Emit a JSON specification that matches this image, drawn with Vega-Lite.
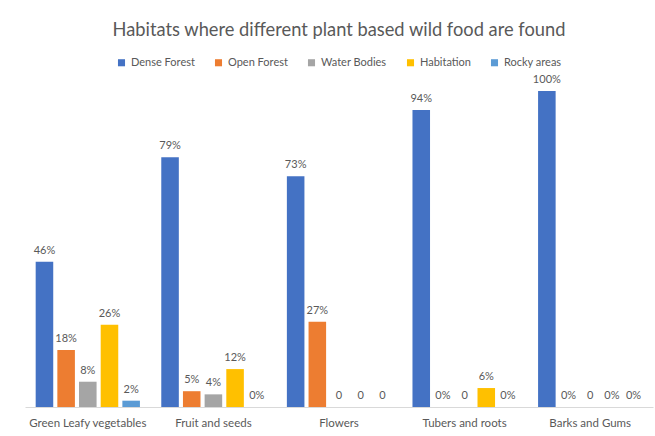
{
  "$schema": "https://vega.github.io/schema/vega-lite/v6.json",
  "autosize": "none",
  "width": 628,
  "height": 316,
  "padding": {"left": 25, "top": 91, "right": 2, "bottom": 29},
  "background": "white",
  "title": {
    "text": "Habitats where different plant based wild food are found",
    "font": "Lato",
    "fontSize": 18.3,
    "fontWeight": "normal",
    "color": "#595959",
    "anchor": "middle",
    "offset": 17
  },
  "data": {
    "values": [
      {"food": "Green Leafy vegetables", "habitat": "Dense Forest", "value": 46, "label": "46%"},
      {"food": "Green Leafy vegetables", "habitat": "Open Forest", "value": 18, "label": "18%"},
      {"food": "Green Leafy vegetables", "habitat": "Water Bodies", "value": 8, "label": "8%"},
      {"food": "Green Leafy vegetables", "habitat": "Habitation", "value": 26, "label": "26%"},
      {"food": "Green Leafy vegetables", "habitat": "Rocky areas", "value": 2, "label": "2%"},
      {"food": "Fruit and seeds", "habitat": "Dense Forest", "value": 79, "label": "79%"},
      {"food": "Fruit and seeds", "habitat": "Open Forest", "value": 5, "label": "5%"},
      {"food": "Fruit and seeds", "habitat": "Water Bodies", "value": 4, "label": "4%"},
      {"food": "Fruit and seeds", "habitat": "Habitation", "value": 12, "label": "12%"},
      {"food": "Fruit and seeds", "habitat": "Rocky areas", "value": 0, "label": "0%"},
      {"food": "Flowers", "habitat": "Dense Forest", "value": 73, "label": "73%"},
      {"food": "Flowers", "habitat": "Open Forest", "value": 27, "label": "27%"},
      {"food": "Flowers", "habitat": "Water Bodies", "value": 0, "label": "0"},
      {"food": "Flowers", "habitat": "Habitation", "value": 0, "label": "0"},
      {"food": "Flowers", "habitat": "Rocky areas", "value": 0, "label": "0"},
      {"food": "Tubers and roots", "habitat": "Dense Forest", "value": 94, "label": "94%"},
      {"food": "Tubers and roots", "habitat": "Open Forest", "value": 0, "label": "0%"},
      {"food": "Tubers and roots", "habitat": "Water Bodies", "value": 0, "label": "0"},
      {"food": "Tubers and roots", "habitat": "Habitation", "value": 6, "label": "6%"},
      {"food": "Tubers and roots", "habitat": "Rocky areas", "value": 0, "label": "0%"},
      {"food": "Barks and Gums", "habitat": "Dense Forest", "value": 100, "label": "100%"},
      {"food": "Barks and Gums", "habitat": "Open Forest", "value": 0, "label": "0%"},
      {"food": "Barks and Gums", "habitat": "Water Bodies", "value": 0, "label": "0"},
      {"food": "Barks and Gums", "habitat": "Habitation", "value": 0, "label": "0%"},
      {"food": "Barks and Gums", "habitat": "Rocky areas", "value": 0, "label": "0%"}
    ]
  },
  "encoding": {
    "x": {
      "field": "food",
      "type": "nominal",
      "sort": ["Green Leafy vegetables", "Fruit and seeds", "Flowers", "Tubers and roots", "Barks and Gums"],
      "scale": {"paddingInner": 0.17, "paddingOuter": 0.085},
      "axis": {
        "title": null,
        "labelAngle": 0,
        "ticks": false,
        "domainColor": "#D9D9D9",
        "labelColor": "#595959",
        "labelFont": "Lato",
        "labelFontSize": 11.5,
        "labelPadding": 10
      }
    },
    "xOffset": {
      "field": "habitat",
      "type": "nominal",
      "sort": ["Dense Forest", "Open Forest", "Water Bodies", "Habitation", "Rocky areas"],
      "scale": {"paddingInner": 0.19, "paddingOuter": 0}
    },
    "y": {
      "field": "value",
      "type": "quantitative",
      "scale": {"domain": [0, 100]},
      "axis": null
    }
  },
  "layer": [
    {
      "mark": {"type": "bar"},
      "encoding": {
        "color": {
          "field": "habitat",
          "type": "nominal",
          "sort": ["Dense Forest", "Open Forest", "Water Bodies", "Habitation", "Rocky areas"],
          "scale": {
            "domain": ["Dense Forest", "Open Forest", "Water Bodies", "Habitation", "Rocky areas"],
            "range": ["#4472C4", "#ED7D31", "#A5A5A5", "#FFC000", "#5B9BD5"]
          },
          "legend": {
            "title": null,
            "orient": "top",
            "direction": "horizontal",
            "symbolType": "square",
            "symbolSize": 50,
            "symbolStrokeWidth": 0,
            "labelFont": "Lato",
            "labelFontSize": 11,
            "labelColor": "#595959",
            "columnPadding": 18,
            "offset": 23
          }
        }
      }
    },
    {
      "mark": {
        "type": "text",
        "baseline": "bottom",
        "dy": -6,
        "font": "Lato",
        "fontSize": 11,
        "color": "#595959"
      },
      "encoding": {
        "text": {"field": "label", "type": "nominal"}
      }
    }
  ],
  "config": {
    "view": {"stroke": null},
    "legend": {"layout": {"top": {"anchor": "middle"}}}
  }
}
